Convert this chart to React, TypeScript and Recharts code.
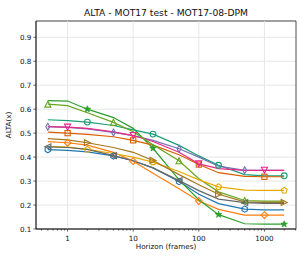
import React from "react"
import {
  LineChart,
  Line,
  XAxis,
  YAxis,
  CartesianGrid,
  ReferenceLine,
  ReferenceArea,
} from "recharts"

// horizon values (frames) and ALTA(x) per tracker
const frames = [0.5, 1, 2, 5, 10, 20, 50, 100, 200, 500, 1000, 2000]

const blueHex = [0.431, 0.428, 0.422, 0.405, 0.385, 0.355, 0.298, 0.245, 0.206, 0.183, 0.18, 0.18]
const orangeDiamond = [0.465, 0.46, 0.45, 0.42, 0.383, 0.333, 0.268, 0.217, 0.182, 0.158, 0.158, 0.158]
const greenStar = [0.636, 0.634, 0.6, 0.565, 0.52, 0.437, 0.305, 0.222, 0.16, 0.122, 0.12, 0.12]
const tealCircle = [0.556, 0.552, 0.546, 0.532, 0.514, 0.496, 0.449, 0.405, 0.366, 0.327, 0.322, 0.322]
const rustSquare = [0.504, 0.5, 0.495, 0.485, 0.47, 0.45, 0.41, 0.369, 0.335, 0.32, 0.318, 0.318]
const purpleThin = [0.527, 0.524, 0.518, 0.503, 0.49, 0.47, 0.435, 0.4, 0.362, 0.345, 0.345, 0.345]
const pinkTriDown = [0.527, 0.525, 0.52, 0.505, 0.49, 0.465, 0.42, 0.372, 0.352, 0.345, 0.345, 0.345]
const limeTriUp = [0.621, 0.615, 0.585, 0.545, 0.506, 0.452, 0.385, 0.31, 0.255, 0.219, 0.216, 0.216]
const yellowPent = [0.445, 0.442, 0.432, 0.415, 0.4, 0.379, 0.34, 0.305, 0.276, 0.262, 0.261, 0.261]
const brownTriRight = [0.477, 0.472, 0.46, 0.44, 0.42, 0.386, 0.327, 0.285, 0.245, 0.213, 0.211, 0.211]
const grayTriLeft = [0.443, 0.44, 0.432, 0.406, 0.385, 0.355, 0.302, 0.26, 0.225, 0.21, 0.207, 0.207]

const xTicks = [1, 10, 100, 1000]
const xMinorTicks = [
  0.4, 0.5, 0.6, 0.7, 0.8, 0.9, 2, 3, 4, 5, 6, 7, 8, 9, 20, 30, 40, 50, 60, 70, 80, 90,
  200, 300, 400, 500, 600, 700, 800, 900, 2000, 3000,
]
const yTicks = [0.1, 0.2, 0.3, 0.4, 0.5, 0.6, 0.7, 0.8, 0.9]

const X_DOMAIN: [number, number] = [0.33, 3027]
const Y_DOMAIN: [number, number] = [0.1, 0.968]

type Shape =
  | "circle" | "square" | "triUp" | "triDown" | "triLeft" | "triRight"
  | "diamond" | "thinDiamond" | "pentagon" | "hexagon" | "star"

const series: { key: string; values: number[]; color: string; shape: Shape; marks: number[] }[] = [
  { key: "blue", values: blueHex, color: "#1f77b4", shape: "hexagon", marks: [0, 3, 6, 9] },
  { key: "orange", values: orangeDiamond, color: "#ff7f0e", shape: "diamond", marks: [1, 4, 7, 10] },
  { key: "green", values: greenStar, color: "#2ca02c", shape: "star", marks: [2, 5, 8, 11] },
  { key: "teal", values: tealCircle, color: "#1b9e77", shape: "circle", marks: [2, 5, 8, 11] },
  { key: "rust", values: rustSquare, color: "#d95f02", shape: "square", marks: [1, 4, 7, 10] },
  { key: "purple", values: purpleThin, color: "#7570b3", shape: "thinDiamond", marks: [0, 3, 6, 9] },
  { key: "pink", values: pinkTriDown, color: "#e7298a", shape: "triDown", marks: [1, 4, 7, 10] },
  { key: "lime", values: limeTriUp, color: "#66a61e", shape: "triUp", marks: [0, 3, 6, 9] },
  { key: "yellow", values: yellowPent, color: "#e6ab02", shape: "pentagon", marks: [2, 5, 8, 11] },
  { key: "brown", values: brownTriRight, color: "#a6761d", shape: "triRight", marks: [2, 5, 8, 11] },
  { key: "gray", values: grayTriLeft, color: "#666666", shape: "triLeft", marks: [0, 3, 6, 9] },
]

const data = frames.map((x, i) => {
  const row: Record<string, number> = { x }
  series.forEach((s) => {
    row[s.key] = s.values[i]
  })
  return row
})

const FONT = "'DejaVu Sans', sans-serif"

function poly(cx: number, cy: number, n: number, r: number, start: number) {
  const pts: string[] = []
  for (let k = 0; k < n; k++) {
    const a = ((start + (360 / n) * k) * Math.PI) / 180
    pts.push(`${cx + r * Math.cos(a)},${cy + r * Math.sin(a)}`)
  }
  return pts.join(" ")
}

function Marker({ shape, cx, cy, color }: { shape: Shape; cx: number; cy: number; color: string }) {
  const common = { stroke: color, strokeWidth: 1.1, fill: "none" }
  const r = 3
  switch (shape) {
    case "circle":
      return <circle cx={cx} cy={cy} r={2.9} {...common} />
    case "square":
      return <rect x={cx - 2.6} y={cy - 2.6} width={5.2} height={5.2} {...common} />
    case "triUp":
      return <polygon points={`${cx},${cy - r} ${cx - r},${cy + r} ${cx + r},${cy + r}`} {...common} />
    case "triDown":
      return <polygon points={`${cx},${cy + r} ${cx - r},${cy - r} ${cx + r},${cy - r}`} {...common} />
    case "triLeft":
      return <polygon points={`${cx - r},${cy} ${cx + r},${cy - r} ${cx + r},${cy + r}`} {...common} />
    case "triRight":
      return <polygon points={`${cx + r},${cy} ${cx - r},${cy - r} ${cx - r},${cy + r}`} {...common} />
    case "diamond":
      return <polygon points={`${cx},${cy - 3.4} ${cx + 3.4},${cy} ${cx},${cy + 3.4} ${cx - 3.4},${cy}`} {...common} />
    case "thinDiamond":
      return <polygon points={`${cx},${cy - 3.4} ${cx + 2},${cy} ${cx},${cy + 3.4} ${cx - 2},${cy}`} {...common} />
    case "pentagon":
      return <polygon points={poly(cx, cy, 5, 3.1, -90)} {...common} />
    case "hexagon":
      return <polygon points={poly(cx, cy, 6, 3.1, -90)} {...common} />
    case "star": {
      const pts: string[] = []
      for (let k = 0; k < 10; k++) {
        const rr = k % 2 === 0 ? 3.4 : 1.4
        const a = ((-90 + 36 * k) * Math.PI) / 180
        pts.push(`${cx + rr * Math.cos(a)},${cy + rr * Math.sin(a)}`)
      }
      return <polygon points={pts.join(" ")} stroke={color} strokeWidth={0.8} fill={color} />
    }
  }
  return null
}

function XTick(props: any) {
  const { x, y, payload } = props
  const major = xTicks.includes(payload.value)
  return (
    <g>
      <line x1={x} x2={x} y1={y} y2={y + (major ? 2.6 : 1.6)} stroke="#222" strokeWidth={0.7} />
      {major && (
        <text x={x} y={y + 12.4} textAnchor="middle" fontSize={7.2} fontFamily={FONT} fill="#111">
          {payload.value}
        </text>
      )}
    </g>
  )
}

export default function App() {
  return (
    <div style={{ position: "absolute", left: 0, top: 0, width: 305, height: 261, background: "#fff" }}>
      <LineChart width={305} height={261} data={data} margin={{ top: 21, right: 9, bottom: 0, left: 0 }}>
        <CartesianGrid vertical={false} stroke="#e4e4e4" strokeWidth={0.9} />
        {xTicks.map((t) => (
          <ReferenceLine key={t} x={t} stroke="#e4e4e4" strokeWidth={0.9} />
        ))}
        <XAxis
          dataKey="x"
          type="number"
          scale="log"
          domain={X_DOMAIN}
          allowDataOverflow
          ticks={[...xTicks, ...xMinorTicks].sort((a, b) => a - b)}
          interval={0}
          tickSize={0}
          tickMargin={0}
          tickLine={false}
          tick={<XTick />}
          height={32}
          axisLine={{ stroke: "#222", strokeWidth: 0.8 }}
        />
        <YAxis
          type="number"
          domain={Y_DOMAIN}
          allowDataOverflow
          ticks={yTicks}
          interval={0}
          width={36}
          tickSize={2.6}
          tickMargin={2}
          tick={{ fontSize: 7.2, fontFamily: FONT, fill: "#111" }}
          tickLine={{ stroke: "#222", strokeWidth: 0.7 }}
          axisLine={{ stroke: "#222", strokeWidth: 0.8 }}
        />
        <ReferenceArea
          x1={X_DOMAIN[0]}
          x2={X_DOMAIN[1]}
          y1={Y_DOMAIN[0]}
          y2={Y_DOMAIN[1]}
          fill="none"
          fillOpacity={0}
          stroke="#222"
          strokeWidth={0.8}
        />
        {series.map((s) => (
          <Line
            key={s.key}
            dataKey={s.key}
            stroke={s.color}
            strokeWidth={1.2}
            isAnimationActive={false}
            dot={(p: any) =>
              s.marks.includes(p.index) ? (
                <Marker key={`${s.key}-${p.index}`} shape={s.shape} cx={p.cx} cy={p.cy} color={s.color} />
              ) : (
                <g key={`${s.key}-${p.index}`} />
              )
            }
            activeDot={false}
          />
        ))}
      </LineChart>
      <div
        style={{
          position: "absolute", left: 36, width: 260, top: 7, textAlign: "center",
          fontFamily: FONT, fontSize: 9.2, lineHeight: "12px", color: "#111", whiteSpace: "nowrap",
        }}
      >
        ALTA - MOT17 test - MOT17-08-DPM
      </div>
      <div
        style={{
          position: "absolute", left: 36, width: 260, top: 242, textAlign: "center",
          fontFamily: FONT, fontSize: 7.2, lineHeight: "10px", color: "#111", whiteSpace: "nowrap",
        }}
      >
        Horizon (frames)
      </div>
      <div
        style={{
          position: "absolute", left: 9 - 30, top: 125 - 5, width: 60, textAlign: "center",
          fontFamily: FONT, fontSize: 7.2, lineHeight: "10px", color: "#111",
          transform: "rotate(-90deg)", whiteSpace: "nowrap",
        }}
      >
        ALTA(x)
      </div>
    </div>
  )
}
